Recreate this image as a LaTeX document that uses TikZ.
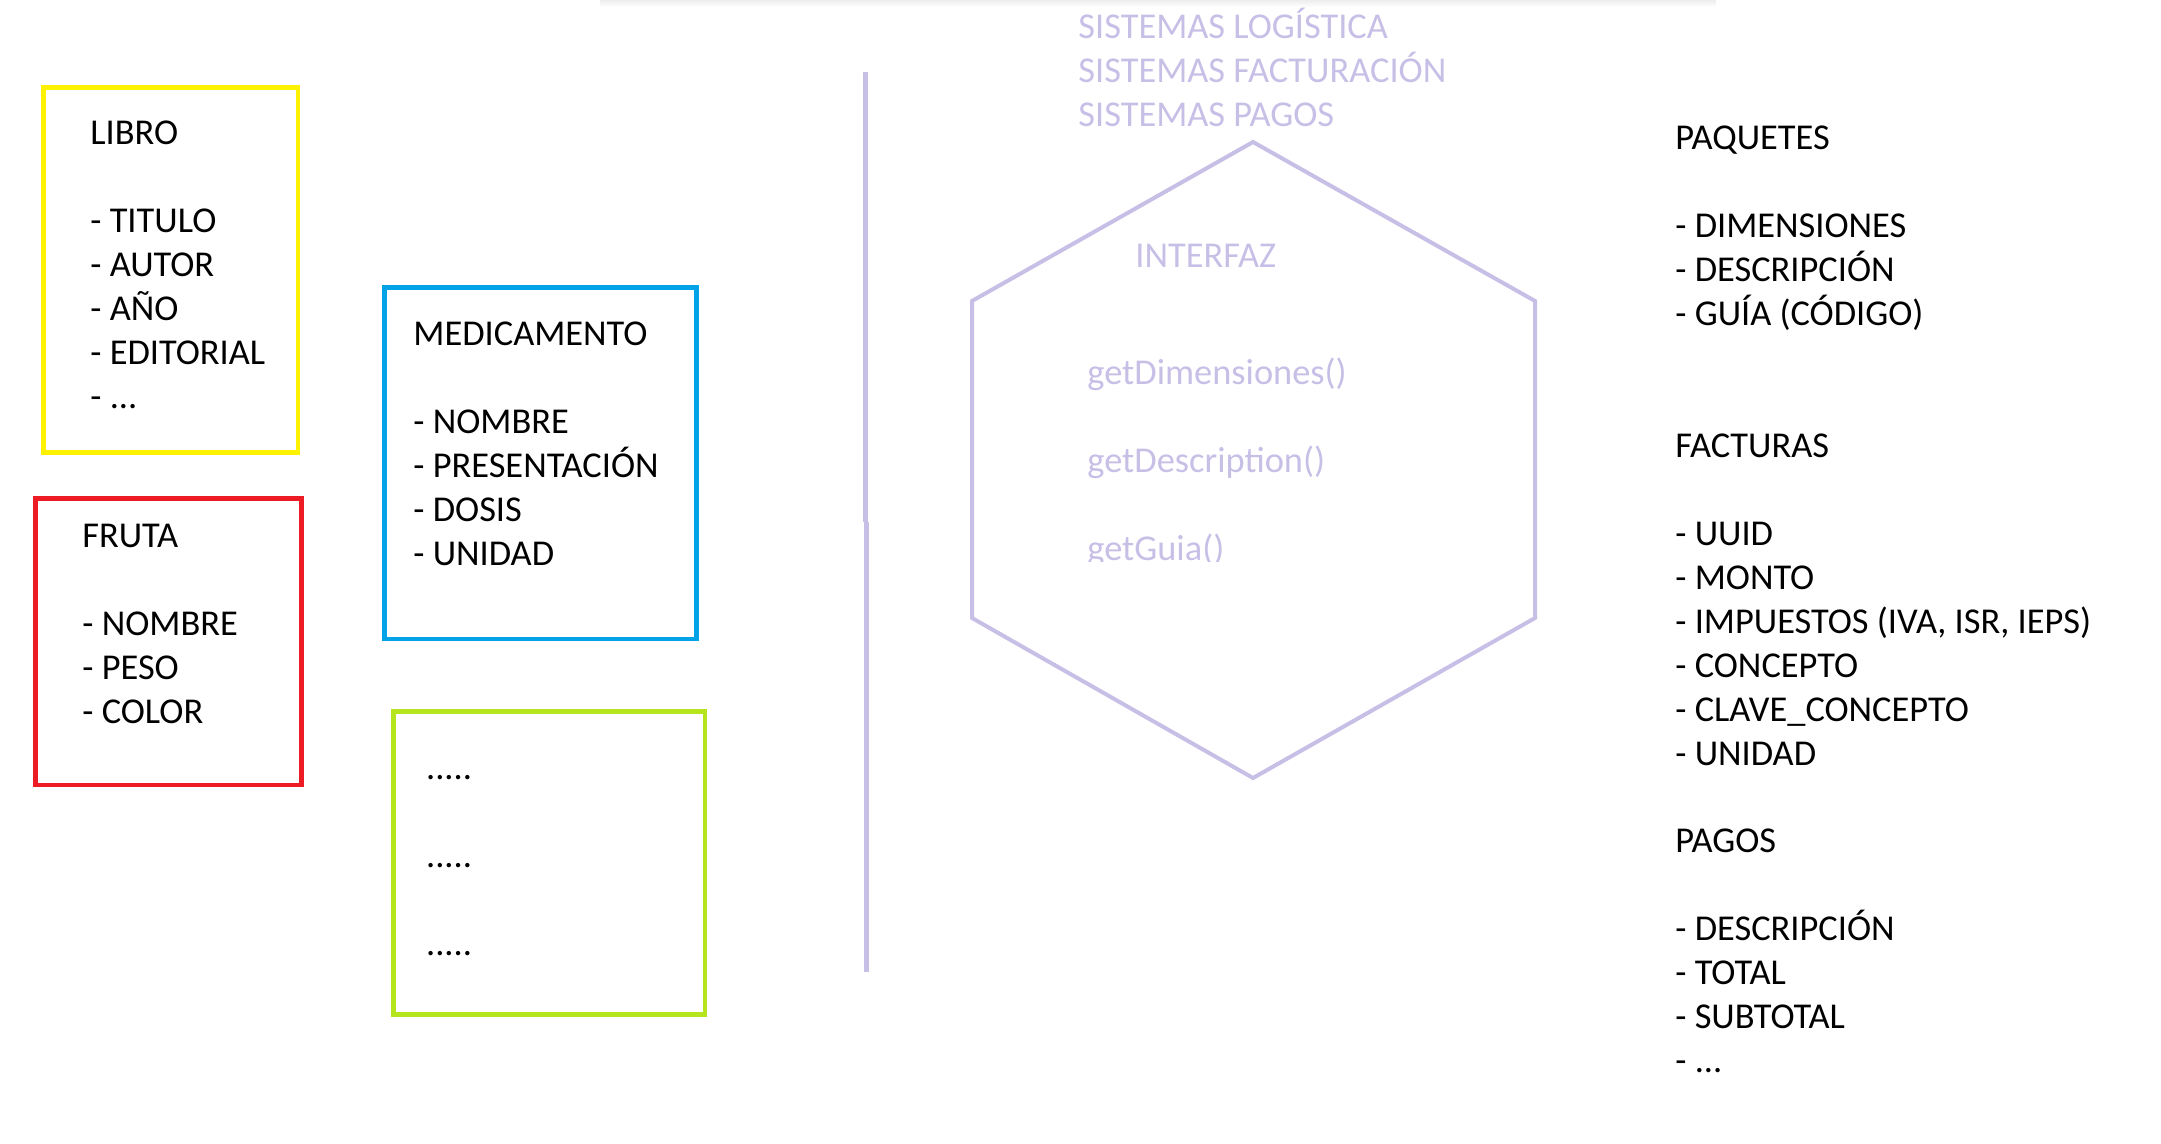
\documentclass[tikz,border=0pt]{standalone}
\usepackage{fontspec}
\setmainfont{Carlito}
\definecolor{cyellow}{HTML}{FFF200}
\definecolor{cblue}{HTML}{00A2E8}
\definecolor{cred}{HTML}{ED1C24}
\definecolor{cgreen}{HTML}{B5E61D}
\definecolor{clav}{HTML}{C8BFE7}
\newcommand\blk[1]{\vtop{\let\\\cr\halign{##\hfil\cr#1\crcr}}}
\tikzset{
  txt/.style={inner sep=0pt, anchor=base west, font=\fontsize{18.2pt}{22pt}\selectfont, xshift=-1pt, yshift=-0.7pt},
  lav/.style={txt, text=clav},
  frame/.style={line width=2.3pt},
}
\begin{document}
\begin{tikzpicture}[x=0.5pt, y=-0.5pt]
\useasboundingbox (0,0) rectangle (2161,1144);
% faint shadow at the top
\shade[top color=black!7, bottom color=white] (600,0) rectangle (1716,7);

% boxes
\draw[frame, cyellow] (43.7,87.3) rectangle (298,452.7);
\draw[frame, cred] (35.6,498.3) rectangle (301.4,785);
\draw[frame, cblue] (384.6,287.8) rectangle (696.3,638.8);
\draw[frame, cgreen] (393.2,711.7) rectangle (705,1014.5);

\node[txt] (libro) at (92,143.5) {\blk{LIBRO\\\\- TITULO\\- AUTOR\\- AÑO\\- EDITORIAL\\- ...}};
\node[txt] (fruta) at (84,546) {\blk{FRUTA\\\\- NOMBRE\\- PESO\\- COLOR}};
\node[txt] (medic) at (415,344.5) {\blk{MEDICAMENTO\\\\- NOMBRE\\- PRESENTACIÓN\\- DOSIS\\- UNIDAD}};
\node[txt] (otros) at (427.7,778) {\blk{.....\\\\.....\\\\.....}};

% vertical separator
\coordinate (s1) at (865.5,72);
\coordinate (s2) at (865.5,522);
\coordinate (s3) at (866.5,522);
\coordinate (s4) at (866.5,972);
\draw[clav, line width=2.5pt] (s1) -- (s2);
\draw[clav, line width=2.5pt] (s3) -- (s4);

% systems
\node[lav] (sist) at (1080,37) {\blk{SISTEMAS LOGÍSTICA\\SISTEMAS FACTURACIÓN\\SISTEMAS PAGOS}};

% hexagon
\coordinate (h1) at (1253,142);
\coordinate (h2) at (1535,301);
\coordinate (h3) at (1535,618);
\coordinate (h4) at (1253,778);
\coordinate (h5) at (972,618);
\coordinate (h6) at (972,301);
\draw[clav, line width=2pt, line join=miter] (h1) -- (h2) -- (h3) -- (h4) -- (h5) -- (h6) -- cycle;
\node[lav] (interfaz) at (1137,266.3) {INTERFAZ};
\node[lav] (metodos) at (1089,382.7) {\blk{getDimensiones()\\\\getDescription()}};
\begin{scope}
\clip (1000,500) rectangle (1400,561);
\node[lav] (guia) at (1089,558.7) {getGuia()};
\end{scope}

% right column
\node[txt] (paq) at (1677,148) {\blk{PAQUETES\\\\- DIMENSIONES\\- DESCRIPCIÓN\\- GUÍA (CÓDIGO)}};
\node[txt] (fact) at (1677,456) {\blk{FACTURAS\\\\- UUID\\- MONTO\\- IMPUESTOS (IVA, ISR, IEPS)\\- CONCEPTO\\- CLAVE\_CONCEPTO\\- UNIDAD}};
\node[txt] (pagos) at (1677,851) {\blk{PAGOS\\\\- DESCRIPCIÓN\\- TOTAL\\- SUBTOTAL\\- ...}};
\end{tikzpicture}
\end{document}
